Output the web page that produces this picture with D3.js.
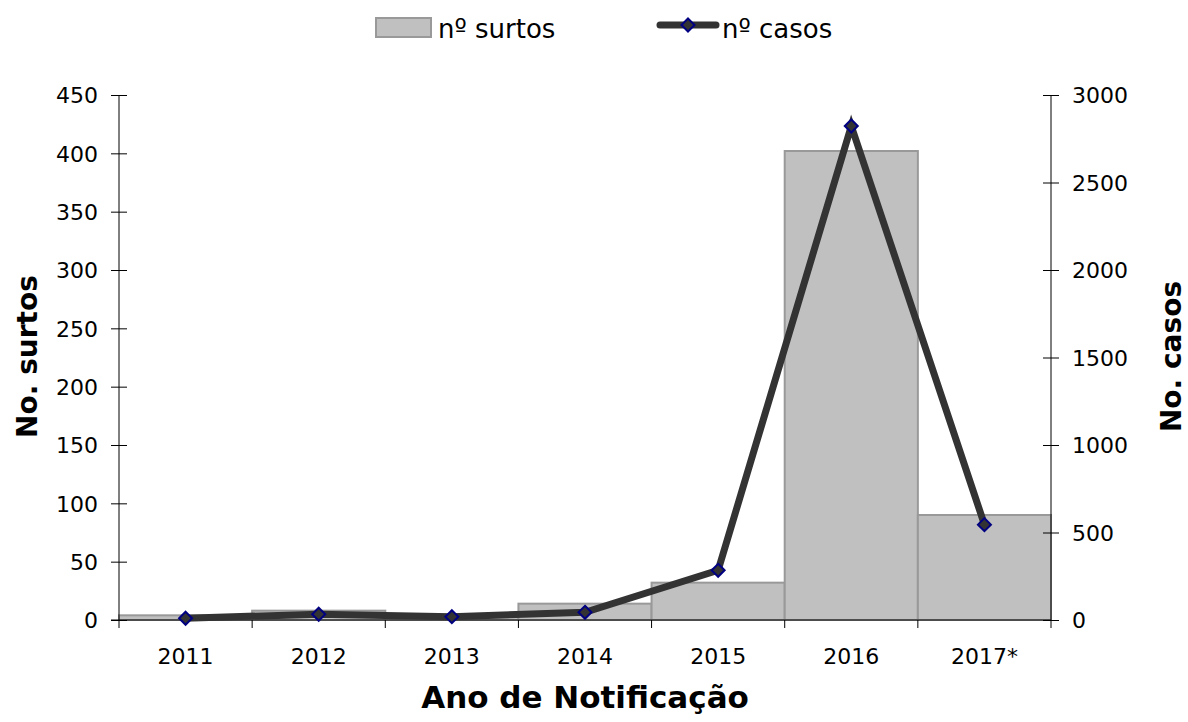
<!DOCTYPE html>
<html>
<head>
<meta charset="utf-8">
<script src="https://cdn.jsdelivr.net/npm/d3@7"></script>
<style>
  body { margin: 0; background: #fff; }
  svg text { font-family: "DejaVu Sans", Verdana, sans-serif; fill: #000; }
</style>
</head>
<body>
<div id="chart"></div>
<script>
// Data
const years = ["2011", "2012", "2013", "2014", "2015", "2016", "2017*"];
const surtos = [4, 8, 3, 14, 32, 402, 90];
const casos = [10, 33, 19, 44, 284, 2823, 545];
const leftTicks = [0, 50, 100, 150, 200, 250, 300, 350, 400, 450];
const rightTicks = [0, 500, 1000, 1500, 2000, 2500, 3000];

const width = 1188, height = 722;
const margin = { top: 95, right: 137, bottom: 102, left: 119 };
const innerW = width - margin.left - margin.right;
const innerH = height - margin.top - margin.bottom;

const svg = d3.select("#chart").append("svg")
  .attr("width", width)
  .attr("height", height);

const g = svg.append("g")
  .attr("transform", `translate(${margin.left},${margin.top})`);

const x = d3.scaleBand().domain(years).range([0, innerW]).padding(0);
const yL = d3.scaleLinear().domain([0, 450]).range([innerH, 0]);
const yR = d3.scaleLinear().domain([0, 3000]).range([innerH, 0]);

// bars
g.selectAll("rect.bar")
  .data(years)
  .join("rect")
  .attr("class", "bar")
  .attr("x", (d) => x(d))
  .attr("y", (d, i) => yL(surtos[i]))
  .attr("width", x.bandwidth())
  .attr("height", (d, i) => innerH - yL(surtos[i]))
  .attr("fill", "#c0c0c0")
  .attr("stroke", "#999")
  .attr("stroke-width", 2);

// left axis
const axL = g.append("g")
  .call(d3.axisLeft(yL).tickValues(leftTicks).tickSize(8).tickPadding(13));
axL.select(".domain").attr("stroke", "#000").attr("d", `M0,${innerH}V0`);
axL.selectAll(".tick line").attr("x2", -8).attr("x1", 8).attr("stroke", "#000");
axL.selectAll(".tick text").style("font-size", "22px").attr("dy", "0.36em");

// right axis
const axR = g.append("g")
  .attr("transform", `translate(${innerW},0)`)
  .call(d3.axisRight(yR).tickValues(rightTicks).tickFormat(d3.format("d"))
    .tickSize(8).tickPadding(13));
axR.select(".domain").attr("stroke", "#000").attr("d", `M0,${innerH}V0`);
axR.selectAll(".tick line").attr("x1", -8).attr("x2", 8).attr("stroke", "#000");
axR.selectAll(".tick text").style("font-size", "22px").attr("dy", "0.36em");

// x axis line and boundary ticks
g.append("line")
  .attr("x1", -8).attr("x2", innerW)
  .attr("y1", innerH).attr("y2", innerH)
  .attr("stroke", "#000");
const bounds = years.map((d) => x(d)).concat([innerW]);
g.selectAll("line.xtick")
  .data(bounds)
  .join("line")
  .attr("class", "xtick")
  .attr("x1", (d) => d).attr("x2", (d) => d)
  .attr("y1", innerH).attr("y2", innerH + 8)
  .attr("stroke", "#000");
g.selectAll("text.xlabel")
  .data(years)
  .join("text")
  .attr("class", "xlabel")
  .attr("x", (d) => x(d) + x.bandwidth() / 2)
  .attr("y", innerH + 44)
  .attr("text-anchor", "middle")
  .style("font-size", "22px")
  .text((d) => d);

// line
const line = d3.line()
  .x((d, i) => x(years[i]) + x.bandwidth() / 2)
  .y((d) => yR(d));
g.append("path")
  .datum(casos)
  .attr("d", line)
  .attr("fill", "none")
  .attr("stroke", "#333")
  .attr("stroke-width", 7)
  .attr("stroke-linejoin", "miter");

const diamond = (s) => `M0,${-s}L${s},0L0,${s}L${-s},0Z`;
g.selectAll("path.marker")
  .data(casos)
  .join("path")
  .attr("class", "marker")
  .attr("transform", (d, i) =>
    `translate(${x(years[i]) + x.bandwidth() / 2},${yR(d)})`)
  .attr("d", diamond(6.5))
  .attr("fill", "#333")
  .attr("stroke", "#000080")
  .attr("stroke-width", 2);

// axis titles
svg.append("text")
  .attr("transform", `translate(37,${margin.top + innerH / 2 - 1}) rotate(-90)`)
  .attr("text-anchor", "middle")
  .style("font-size", "28px")
  .style("font-weight", "bold")
  .text("No. surtos");
svg.append("text")
  .attr("transform", `translate(1181,${margin.top + innerH / 2 - 1}) rotate(-90)`)
  .attr("text-anchor", "middle")
  .style("font-size", "28px")
  .style("font-weight", "bold")
  .text("No. casos");
svg.append("text")
  .attr("x", 585)
  .attr("y", 708)
  .attr("text-anchor", "middle")
  .style("font-size", "31px")
  .style("font-weight", "bold")
  .text("Ano de Notificação");

// legend
const leg = svg.append("g");
leg.append("rect")
  .attr("x", 376).attr("y", 18)
  .attr("width", 55).attr("height", 19)
  .attr("fill", "#c0c0c0")
  .attr("stroke", "#999")
  .attr("stroke-width", 2);
leg.append("text")
  .attr("x", 438).attr("y", 38)
  .style("font-size", "26px")
  .text("nº surtos");
leg.append("line")
  .attr("x1", 660).attr("x2", 716)
  .attr("y1", 25).attr("y2", 25)
  .attr("stroke", "#333")
  .attr("stroke-width", 7)
  .attr("stroke-linecap", "round");
leg.append("path")
  .attr("transform", "translate(688,25)")
  .attr("d", diamond(6.5))
  .attr("fill", "#333")
  .attr("stroke", "#000080")
  .attr("stroke-width", 2);
leg.append("text")
  .attr("x", 722).attr("y", 38)
  .style("font-size", "26px")
  .text("nº casos");
</script>
</body>
</html>
